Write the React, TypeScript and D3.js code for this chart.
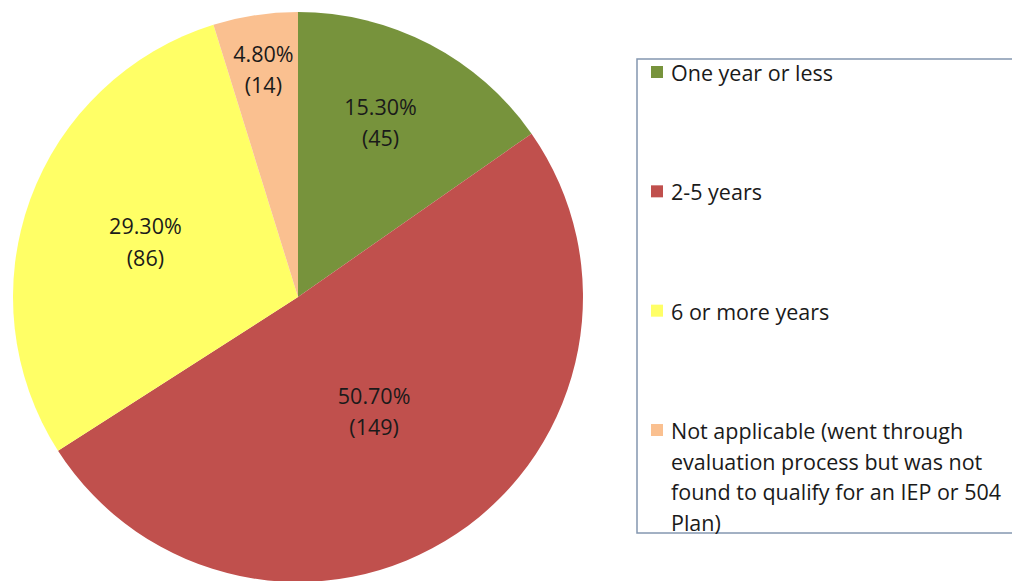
import React, { useRef, useEffect } from 'react';
import * as d3 from 'd3';

// slices, clockwise from 12 o'clock
const categories = ['One year or less', '2-5 years', '6 or more years', 'Not applicable (went through evaluation process but was not found to qualify for an IEP or 504 Plan)'];
const percents = [15.3, 50.7, 29.3, 4.8];
const counts = [45, 149, 86, 14];
const colors = ['#77933c', '#c0504d', '#ffff66', '#fac090'];
// legend label broken into lines the way the original wraps it
const legendLines = [
  ['One year or less'],
  ['2-5 years'],
  ['6 or more years'],
  ['Not applicable (went through', 'evaluation process but was not', 'found to qualify for an IEP or 504', 'Plan)'],
];
// how far out (fraction of radius) each data label sits
const labelRadius = [0.68, 0.48, 0.57, 0.81];

const W = 1012;
const H = 581;
const FONT = 'Open Sans, sans-serif';
const FS = 21.5;

function App() {
  const svgRef = useRef<SVGSVGElement>(null);

  useEffect(() => {
    const svg = d3.select(svgRef.current);
    svg.selectAll('*').remove();

    const cx = 298, cy = 297, r = 285;
    const g = svg.append('g').attr('transform', `translate(${cx},${cy})`);

    const pie = d3.pie<number>().sort(null).value(d => d);
    const arcs = pie(percents);
    const arc = d3.arc<d3.PieArcDatum<number>>().innerRadius(0).outerRadius(r);

    g.selectAll('path.slice')
      .data(arcs)
      .join('path')
      .attr('class', 'slice')
      .attr('d', arc)
      .attr('fill', (d, i) => colors[i]);

    // data labels
    const labels = g.selectAll('g.lbl')
      .data(arcs)
      .join('g')
      .attr('class', 'lbl')
      .attr('transform', (d, i) => {
        const a = (d.startAngle + d.endAngle) / 2 - (i === 0 ? 0.04 : 0);
        const lr = r * labelRadius[i];
        return `translate(${lr * Math.sin(a)},${-lr * Math.cos(a)})`;
      });

    labels.append('text')
      .attr('text-anchor', 'middle')
      .attr('dominant-baseline', 'central')
      .attr('y', -15.5)
      .attr('font-family', FONT)
      .attr('font-size', FS)
      .attr('fill', '#1a1a1a')
      .text((d, i) => percents[i].toFixed(2) + '%');

    labels.append('text')
      .attr('text-anchor', 'middle')
      .attr('dominant-baseline', 'central')
      .attr('y', 16)
      .attr('font-family', FONT)
      .attr('font-size', FS)
      .attr('fill', '#1a1a1a')
      .text((d, i) => `(${counts[i]})`);

    // legend box
    const lx = 637, ly = 59;
    svg.append('rect')
      .attr('x', lx)
      .attr('y', ly)
      .attr('width', W - lx + 10)
      .attr('height', 533 - ly)
      .attr('fill', 'white')
      .attr('stroke', '#8497b0')
      .attr('stroke-width', 1.5);

    const rowY = d3.scalePoint<string>()
      .domain(categories)
      .range([72, 430]);

    const items = svg.selectAll('g.leg')
      .data(categories)
      .join('g')
      .attr('class', 'leg')
      .attr('transform', d => `translate(${lx},${rowY(d)})`);

    items.append('rect')
      .attr('x', 14)
      .attr('y', -6)
      .attr('width', 12)
      .attr('height', 12)
      .attr('fill', (d, i) => colors[i]);

    items.each(function (d, i) {
      const t = d3.select(this).append('text')
        .attr('font-family', FONT)
        .attr('font-size', FS)
        .attr('fill', '#1a1a1a')
        .attr('dominant-baseline', 'central');
      legendLines[i].forEach((line, j) => {
        t.append('tspan')
          .attr('x', 34)
          .attr('y', j * 30.7)
          .text(line);
      });
    });
  }, []);

  return (
    <svg
      ref={svgRef}
      width={W}
      height={H}
      style={{ position: 'absolute', left: 0, top: 0, background: 'white' }}
    />
  );
}

export default App;
